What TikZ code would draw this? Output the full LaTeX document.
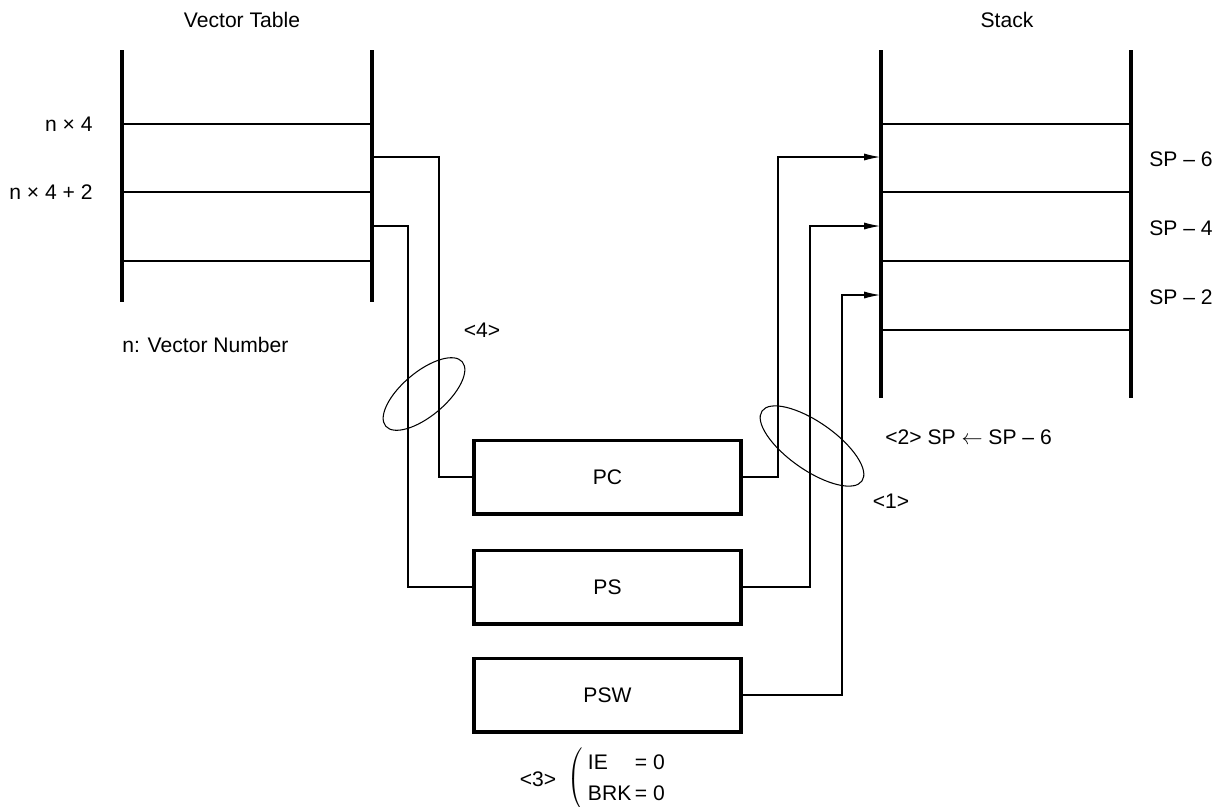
\documentclass[tikz,border=0pt]{standalone}
\usepackage{fontspec}
\setmainfont{Liberation Sans}
\usetikzlibrary{arrows.meta}
\begin{document}
\begin{tikzpicture}[>={Latex[length=9pt,width=4pt]}, x=0.02cm, y=-0.02cm,
    font=\fontsize{12}{14}\selectfont,
    bar/.style={line width=2pt},
    cell/.style={line width=0.6pt},
    reg/.style={draw, line width=2pt, minimum width=5.34cm, minimum height=1.47cm, inner sep=0pt},
    lbl/.style={inner sep=0pt}]
\useasboundingbox (0,0) rectangle (1225,806);

% Bảng vector
\draw[bar] (122,50) -- (122,302);
\draw[bar] (372,50) -- (372,302);
\foreach \y in {124,192,261} {
    \draw[cell] (122,\y) -- (372,\y);
}
\node (vtab) at (242,20) {Vector Table};
\node[lbl, anchor=east] (n4) at (93,124) {n × 4};
\node[lbl, anchor=east] (n42) at (93,192) {n × 4 + 2};
\node[lbl, anchor=west] (vnum) at (122,345) {n: Vector Number};
\coordinate (v1) at (372,157);
\coordinate (v2) at (372,226);

% Ngăn xếp
\draw[bar] (881,50) -- (881,398);
\draw[bar] (1131,50) -- (1131,398);
\foreach \y in {124,192,261,330} {
    \draw[cell] (881,\y) -- (1131,\y);
}
\node (stk) at (1007,20) {Stack};
\foreach \y/\n in {157/6,226/4,295/2} {
    \node[lbl, anchor=west] (sp\n) at (1149,\y+2) {SP – \n};
    \coordinate (s\n) at (880,\y);
}

% Các thanh ghi
\node[reg] (pc) at (607.5,477) {PC};
\node[reg] (ps) at (607.5,587) {PS};
\node[reg] (psw) at (607.5,695) {PSW};

\draw[cell] (v1) -- (439,157) |- (pc.west);
\draw[cell] (v2) -- (408,226) |- (ps.west);
\draw[cell,->] (pc.east) -| (778,157) -- (s6);
\draw[cell,->] (ps.east) -| (810,226) -- (s4);
\draw[cell,->] (psw.east) -| (842,295) -- (s2);

\draw[cell, rotate around={40:(424,394)}] (424,394) ellipse [x radius=50, y radius=22];
\draw[cell, rotate around={-35:(812,446)}] (812,446) ellipse [x radius=61, y radius=24];

% Các bước
\node (st4) at (482,330) {<4>};
\node[lbl, anchor=west] (st2) at (885,437) {<2> SP $\leftarrow$ SP – 6};
\node (st1) at (891,501) {<1>};
\node (st3) at (538,779) {<3>};
\node[lbl, anchor=west] (flags) at (567,779) {\renewcommand{\arraystretch}{1.25}%
    $\left(\begin{tabular}{@{\hspace{3pt}}l@{\hspace{2pt}}l@{}}IE & = 0\\ BRK & = 0\end{tabular}\right.$};
\end{tikzpicture}
\end{document}
